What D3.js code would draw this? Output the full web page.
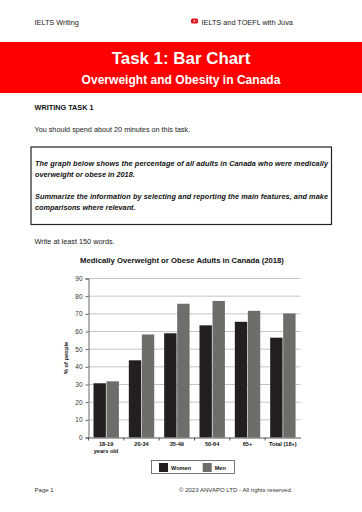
<!DOCTYPE html>
<html>
<head>
<meta charset="utf-8">
<script src="https://cdn.jsdelivr.net/npm/d3@7"></script>
<style>
  html, body { margin: 0; padding: 0; background: #fff; }
  svg { display: block; font-family: "Liberation Sans", Arial, sans-serif; opacity: 0.999; }
</style>
</head>
<body>
<div id="page"></div>
<script>
const categories = ["18-19", "20-34", "35-49", "50-64", "65+", "Total (18+)"];
const seriesNames = ["Women", "Men"];
const women = [30.7, 43.7, 59, 63.5, 65.5, 56.5];
const men = [31.8, 58.3, 75.7, 77.3, 71.7, 70.2];
const yTicks = [0, 10, 20, 30, 40, 50, 60, 70, 80, 90];

const width = 362, height = 512;
const svg = d3.select("#page").append("svg")
  .attr("width", width)
  .attr("height", height);

function label(x, y, str, size, opts = {}) {
  return svg.append("text")
    .attr("x", x)
    .attr("y", y)
    .attr("font-size", size)
    .attr("font-weight", opts.weight || "normal")
    .attr("font-style", opts.style || "normal")
    .attr("text-anchor", opts.anchor || "start")
    .attr("fill", opts.fill || "#222")
    .text(str);
}

// page header
label(34.5, 24.5, "IELTS Writing", 7.3);
label(201.5, 24.5, "IELTS and TOEFL with Juva", 7.3);
svg.append("rect").attr("x", 191).attr("y", 18.5).attr("width", 7).attr("height", 5)
  .attr("rx", 1.5).attr("fill", "#e0141c");
svg.append("path").attr("d", "M193.7,19.9 L195.9,21 L193.7,22.1 Z").attr("fill", "#fff");

// red banner
svg.append("rect").attr("x", 0).attr("y", 42).attr("width", width).attr("height", 51).attr("fill", "#ff0000");
label(181, 64.3, "Task 1: Bar Chart", 16.9, {weight: "bold", anchor: "middle", fill: "#fff"});
label(181, 84.4, "Overweight and Obesity in Canada", 12.05, {weight: "bold", anchor: "middle", fill: "#fff"});

label(34.5, 110, "WRITING TASK 1", 7.3, {weight: "bold", fill: "#111"});
label(34.5, 132, "You should spend about 20 minutes on this task.", 7.25);

// task box
svg.append("rect").attr("x", 31).attr("y", 147).attr("width", 300.5).attr("height", 77.5)
  .attr("fill", "#fff").attr("stroke", "#222").attr("stroke-width", 1.2);
const boxOpts = {weight: "bold", style: "italic", fill: "#111"};
label(35, 166.3, "The graph below shows the percentage of all adults in Canada who were medically", 7.3, boxOpts)
  .attr("textLength", 293).attr("lengthAdjust", "spacing");
label(35, 177, "overweight or obese in 2018.", 7.3, boxOpts);
label(35, 199, "Summarize the information by selecting and reporting the main features, and make", 7.3, boxOpts)
  .attr("textLength", 293).attr("lengthAdjust", "spacing");
label(35, 210, "comparisons where relevant.", 7.3, boxOpts);
label(34.5, 244, "Write at least 150 words.", 7.3);

// chart
label(182, 263, "Medically Overweight or Obese Adults in Canada (2018)", 7.72, {weight: "bold", anchor: "middle", fill: "#111"});

const x = d3.scaleBand().domain(categories).range([88.5, 300.5]);
const xInner = d3.scaleBand().domain(seriesNames).range([5, 30.4]).paddingInner(0.05);
const y = d3.scaleLinear().domain([0, 90]).range([437.5, 278.5]);
const colors = d3.scaleOrdinal().domain(seriesNames).range(["#231f20", "#6d6e69"]);

// gridlines
svg.append("g").selectAll("line")
  .data(yTicks.filter(d => d > 0))
  .join("line")
  .attr("x1", x.range()[0])
  .attr("x2", x.range()[1])
  .attr("y1", d => y(d))
  .attr("y2", d => y(d))
  .attr("stroke", "#c4c4c4")
  .attr("stroke-width", 1);

// bars
const rows = categories.map((c, i) => ({cat: c, values: [women[i], men[i]]}));
svg.append("g").selectAll("g")
  .data(rows)
  .join("g")
  .attr("transform", d => `translate(${x(d.cat)},0)`)
  .selectAll("rect")
  .data(d => d.values.map((v, i) => ({name: seriesNames[i], v})))
  .join("rect")
  .attr("x", d => xInner(d.name))
  .attr("y", d => y(d.v))
  .attr("width", xInner.bandwidth())
  .attr("height", d => y(0) - y(d.v))
  .attr("fill", d => colors(d.name));

// axes
const yAxis = svg.append("g")
  .attr("transform", `translate(${x.range()[0]},0)`)
  .call(d3.axisLeft(y).tickValues(yTicks).tickSize(3).tickPadding(3));
yAxis.select(".domain").attr("stroke", "#666");
yAxis.selectAll("line").attr("stroke", "#666");
yAxis.selectAll("text").attr("font-size", 6.5).attr("font-family", "Liberation Sans").attr("fill", "#333");

const xAxis = svg.append("g")
  .attr("transform", `translate(0,${y(0)})`)
  .call(d3.axisBottom(x).tickSize(0).tickPadding(5));
xAxis.select(".domain").attr("stroke", "#555");
xAxis.selectAll("text").attr("font-size", 5.6).attr("font-weight", "bold")
  .attr("font-family", "Liberation Sans").attr("fill", "#111");
xAxis.append("g").selectAll("line")
  .data(categories)
  .join("line")
  .attr("x1", d => x(d))
  .attr("x2", d => x(d))
  .attr("y1", 0)
  .attr("y2", 3)
  .attr("stroke", "#555");
label(106, 453, "years old", 5.6, {weight: "bold", anchor: "middle", fill: "#111"});

svg.append("text")
  .attr("transform", "translate(67.5,358) rotate(-90)")
  .attr("text-anchor", "middle")
  .attr("font-size", 5.8)
  .attr("font-weight", "bold")
  .attr("fill", "#222")
  .text("% of people");

// legend
svg.append("rect").attr("x", 151.5).attr("y", 460.5).attr("width", 83).attr("height", 13)
  .attr("fill", "#fff").attr("stroke", "#555").attr("stroke-width", 0.8);
const legendX = d3.scaleOrdinal().domain(seriesNames).range([159, 202.7]);
const legend = svg.append("g").selectAll("g")
  .data(seriesNames)
  .join("g")
  .attr("transform", d => `translate(${legendX(d)},463)`);
legend.append("rect").attr("width", 9).attr("height", 9).attr("fill", d => colors(d));
legend.append("text").attr("x", 12).attr("y", 6.9).attr("font-size", 5.6)
  .attr("font-weight", "bold").attr("fill", "#111").text(d => d);

// footer
label(34.5, 491.5, "Page  1", 6.05, {fill: "#333"});
label(179, 491.5, "© 2023 ANVAPO LTD - All rights reserved.", 6.05, {fill: "#333"});
</script>
</body>
</html>
